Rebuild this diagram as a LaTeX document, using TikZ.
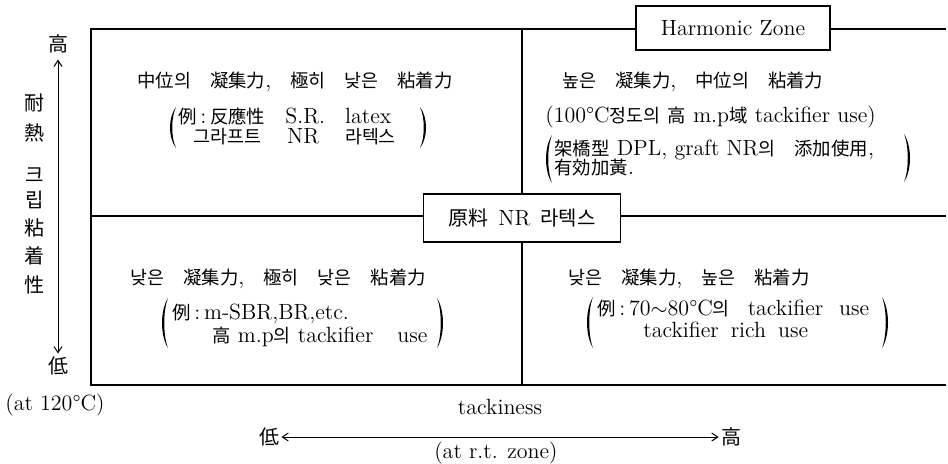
\documentclass[tikz,border=0pt]{standalone}
\usepackage{fontspec}
\newfontfamily\krfont{Noto Sans CJK KR}
\usetikzlibrary{arrows.meta}
\newcommand\K[1]{{\krfont\fontsize{9.2}{10}\selectfont #1}}
\newcommand\KA[1]{{\krfont\fontsize{10}{11}\selectfont #1}}
\newcommand\gp{\hspace{9.5pt}}
\newcommand\Lpar[3]{\fill (#1+6,#2) .. controls (#1-2,{#2+0.25*(#3-#2)}) and (#1-2,{#3-0.25*(#3-#2)}) .. (#1+6,#3) .. controls (#1+1,{#3-0.25*(#3-#2)}) and (#1+1,{#2+0.25*(#3-#2)}) .. (#1+6,#2);}
\newcommand\Rpar[3]{\fill (#1,#2) .. controls (#1+8,{#2+0.25*(#3-#2)}) and (#1+8,{#3-0.25*(#3-#2)}) .. (#1,#3) .. controls (#1+5,{#3-0.25*(#3-#2)}) and (#1+5,{#2+0.25*(#3-#2)}) .. (#1,#2);}
\begin{document}
\begin{tikzpicture}[x=0.5pt,y=-0.5pt,
  frame/.style={line width=0.9pt},
  lbl/.style={inner sep=0pt, font=\fontsize{11}{13}\selectfont},
  txt/.style={lbl, anchor=base west},
  boxnode/.style={draw, line width=0.7pt, inner sep=0pt, font=\fontsize{11}{13}\selectfont},
  axis/.style={line width=0.5pt, arrows={Straight Barb[length=3pt,width=4pt]-Straight Barb[length=3pt,width=4pt]}}]
\useasboundingbox (0,0) rectangle (948,463);
% frame
\coordinate (TL) at (91,29);
\coordinate (TR) at (946,29);
\coordinate (BL) at (91,385);
\coordinate (BR) at (946,385);
\coordinate (ML) at (91,216);
\coordinate (MR) at (946,216);
\coordinate (VT) at (522,29);
\coordinate (VB) at (522,385);
\node[boxnode, minimum width=97pt, minimum height=22pt] (hz) at (733,28) {Harmonic Zone};
\node[boxnode, minimum width=98.5pt, minimum height=24pt] (nr) at (522,218) {\KA{原料}\hspace{5pt}NR\hspace{5pt}\KA{라텍스}};
\draw[frame] (TL -| hz.west) -- (TL) -- (BL) -- (BR);
\draw[frame] (TL -| hz.east) -- (TR);
\draw[frame] (ML) -- (ML -| nr.west);
\draw[frame] (ML -| nr.east) -- (MR);
\draw[frame] (VT) -- (nr.north);
\draw[frame] (nr.south) -- (VB);
% left axis
\node[lbl] (hi1) at (58,44) {\KA{高}};
\node[lbl] (lo1) at (58,366) {\KA{低}};
\draw[axis, shorten <=3pt, shorten >=1.5pt] (hi1.south) -- (lo1.north);
\foreach \c/\y [count=\i] in {耐/103, 熱/133, 크/175, 립/200, 粘/228, 着/256, 性/285}
  \node[lbl] (v\i) at (35,\y) {\KA{\c}};
\node[lbl] (t120) at (55,405) {(at 120°C)};
% bottom axis
\node[lbl] (tack) at (500,407) {tackiness};
\node[lbl] (lo2) at (269,437) {\KA{低}};
\node[lbl] (hi2) at (731,437) {\KA{高}};
\draw[axis, shorten <=1pt, shorten >=1pt] (lo2.east) -- (hi2.west);
\node[lbl] (rt) at (496,453) {(at r.t. zone)};
% top-left quadrant
\node[txt] (q1a) at (137,87) {\K{中位의}\gp\K{凝集力},\gp\K{極히}\gp\K{낮은}\gp\K{粘着力}};
\node[txt] (q1b) at (178,123) {\K{例}\,:\,\K{反應性}\hspace{10pt}S.R.\hspace{10pt}latex};
\node[txt] (q1c) at (193,143) {\K{그라프트}\hspace{13pt}NR\hspace{13pt}\K{라텍스}};
\Lpar{170}{107}{148}
\Rpar{420}{107}{148}
% top-right quadrant
\node[txt] (q2a) at (562,87) {\K{높은}\gp\K{凝集力},\gp\K{中位의}\gp\K{粘着力}};
\node[txt] (q2b) at (545,122) {(100°C\K{정도의} \K{高} m.p\K{域} tackifier use)};
\node[txt] (q2c) at (554,155) {\K{架橋型} DPL, graft NR\K{의}\gp\K{添加使用},};
\node[txt] (q2d) at (554,174) {\K{有効加黃}.};
\Lpar{546}{135}{183}
\Rpar{904}{134}{182}
% bottom-left quadrant
\node[txt] (q3a) at (130,284) {\K{낮은}\gp\K{凝集力},\gp\K{極히}\gp\K{낮은}\gp\K{粘着力}};
\node[txt] (q3b) at (172,319) {\K{例}\,:\,m-SBR,BR,etc.};
\node[txt] (q3c) at (212,342) {\K{高} m.p\K{의} tackifier\hspace{12pt}use};
\Lpar{162}{298}{348}
\Rpar{437}{298}{348}
% bottom-right quadrant
\node[txt] (q4a) at (568,284) {\K{낮은}\gp\K{凝集力},\gp\K{높은}\gp\K{粘着力}};
\node[txt] (q4b) at (597,315) {\K{例}\,:\,70$\sim$80°C\K{의}\hspace{9pt}tackifier\hspace{8pt}use};
\node[txt] (q4c) at (643,337) {tackifier\hspace{6pt}rich\hspace{6pt}use};
\Lpar{587}{297}{348}
\Rpar{882}{297}{348}
\end{tikzpicture}
\end{document}
